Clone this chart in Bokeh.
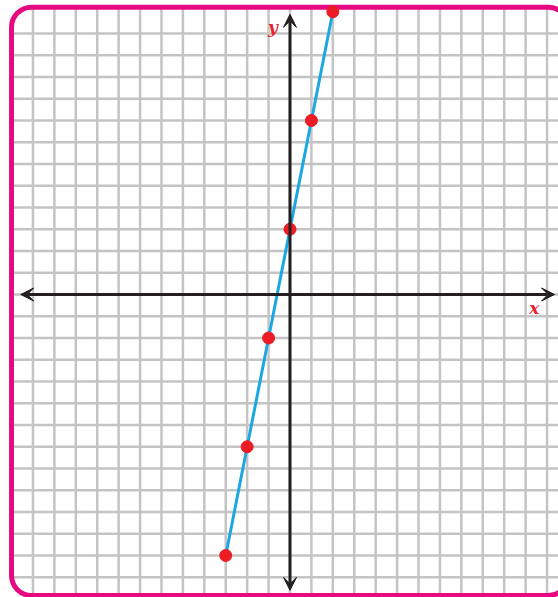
from bokeh.plotting import figure
from bokeh.models import Arrow, VeeHead
from bokeh.core.properties import value
from bokeh.embed import file_html
from bokeh.resources import INLINE

# data: the line y = 5x + 3
x_values = [-3, -2, -1, 0, 1, 2]
y_values = [-12, -7, -2, 3, 8, 13]

# grid lines (one per unit)
x_grid = list(range(-12, 13))
y_grid = list(range(-13, 13))

# axis labels
x_label = "x"
y_label = "y"

# frame extents (data units) and border box
X0, X1 = -13.515, 12.535
Y0, Y1 = -13.931, 13.517
B_LEFT, B_RIGHT, B_TOP, B_BOTTOM = -13.0, 13.0, 13.21, -13.84

p = figure(width=558, height=597, x_range=(X0, X1), y_range=(Y0, Y1),
           output_backend="svg", toolbar_location=None, min_border=0,
           x_axis_location=None, y_axis_location=None)
p.grid.visible = False
p.outline_line_color = None
p.background_fill_color = "white"
p.border_fill_color = "white"

GRID = "#c4c4c4"
# vertical grid lines
p.segment(x0=x_grid, x1=x_grid, y0=[B_BOTTOM] * len(x_grid), y1=[B_TOP] * len(x_grid),
          line_color=GRID, line_width=2.5)
# horizontal grid lines
p.segment(x0=[B_LEFT] * len(y_grid), x1=[B_RIGHT] * len(y_grid), y0=y_grid, y1=y_grid,
          line_color=GRID, line_width=2.5)

# rounded magenta border
p.rect(x=[(B_LEFT + B_RIGHT) / 2], y=[(B_TOP + B_BOTTOM) / 2],
       width=[B_RIGHT - B_LEFT], height=[B_TOP - B_BOTTOM],
       fill_color=None, line_color="#e6097f", line_width=5, border_radius=20)

AX = "#231f20"
# x axis with arrows on both ends
p.add_layout(Arrow(x_start=-12.57, y_start=0, x_end=12.35, y_end=0,
                   start=VeeHead(size=13, fill_color=AX, line_color=AX),
                   end=VeeHead(size=13, fill_color=AX, line_color=AX),
                   line_color=AX, line_width=3))
# y axis with arrows on both ends
p.add_layout(Arrow(x_start=0, y_start=-13.6, x_end=0, y_end=12.88,
                   start=VeeHead(size=13, fill_color=AX, line_color=AX),
                   end=VeeHead(size=13, fill_color=AX, line_color=AX),
                   line_color=AX, line_width=3))

# the line and its points
p.line(x=x_values, y=y_values, line_color="#1aa7e4", line_width=3)
p.scatter(x=x_values, y=y_values, size=12, fill_color="#ec1c24", line_color="#ec1c24")

# axis labels
p.text(x=[11.41, -0.8], y=[-0.64, 12.28], text=[x_label, y_label],
       text_font=value("DejaVu Serif"), text_font_style="bold italic",
       text_color="#e8232f", text_font_size="17px",
       text_align="center", text_baseline="middle")

open("out.html", "w").write(file_html(p, INLINE))
